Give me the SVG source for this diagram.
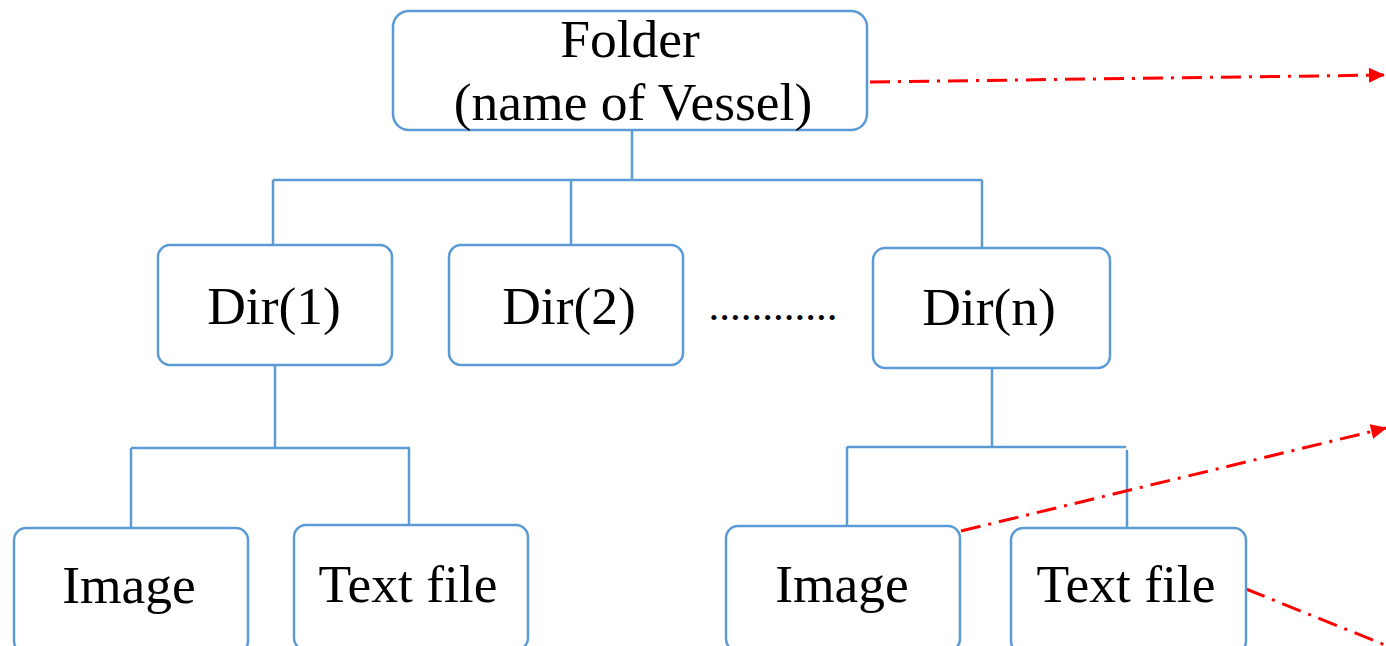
<svg xmlns="http://www.w3.org/2000/svg" width="1386" height="646" viewBox="0 0 1386 646">
<style>
.box{fill:#fff;stroke:#5B9BD5;stroke-width:2.5}
.ln{stroke:#5B9BD5;stroke-width:2.5;fill:none}
.t{font-family:"Liberation Serif","Times New Roman",serif;font-size:53.5px;fill:#000;text-anchor:middle}
.rd{stroke:#FF0000;stroke-width:3;fill:none;stroke-dasharray:20 8 3 8}
</style>
<defs>
<marker id="ah" markerWidth="16" markerHeight="15" refX="15" refY="7.5" orient="auto" markerUnits="userSpaceOnUse" overflow="visible">
<path d="M0,0 L16,7.5 L0,15 Z" fill="#FF0000"/>
</marker>
</defs>
<rect width="1386" height="646" fill="#fff"/>
<g id="connectors">
<path class="ln" d="M632,130 V180 M273,180 H982 M273,180 V245 M571,180 V245 M982,180 V248"/>
<path class="ln" d="M275,365 V448 M131,448 H410 M131,448 V528 M409,448 V525"/>
<path class="ln" d="M992,368 V447 M847,447 H1126 M847,447 V530 M1127,450 V530"/>
<path class="rd" d="M870,82 L1384,75" marker-end="url(#ah)"/>
<path class="rd" d="M961,531 L1386,428" marker-end="url(#ah)"/>
<path class="rd" d="M1246,589 L1390,647"/>
</g>
<g id="folder">
<rect class="box" x="393" y="11" width="474" height="119" rx="16"/>
<text class="t" x="630" y="57">Folder</text>
<text class="t" x="633" y="120">(name of Vessel)</text>
</g>
<g id="dir1">
<rect class="box" x="158" y="245" width="234" height="120" rx="12"/>
<text class="t" x="274" y="324">Dir(1)</text>
</g>
<g id="dir2">
<rect class="box" x="449" y="245" width="234" height="120" rx="12"/>
<text class="t" x="569" y="324">Dir(2)</text>
</g>
<g id="dots">
<text x="773" y="320" style="font-family:'Liberation Serif','Times New Roman',serif;font-size:43px;fill:#000;text-anchor:middle">............</text>
</g>
<g id="dirn">
<rect class="box" x="873" y="248" width="237" height="120" rx="12"/>
<text class="t" x="989" y="325">Dir(n)</text>
</g>
<g id="image1">
<rect class="box" x="14" y="528" width="234" height="125" rx="12"/>
<text class="t" x="129" y="603">Image</text>
</g>
<g id="textfile1">
<rect class="box" x="294" y="525" width="234" height="125" rx="12"/>
<text class="t" x="408" y="602">Text file</text>
</g>
<g id="image2">
<rect class="box" x="726" y="526" width="234" height="125" rx="12"/>
<text class="t" x="842" y="602">Image</text>
</g>
<g id="textfile2">
<rect class="box" x="1011" y="528" width="235" height="125" rx="12"/>
<text class="t" x="1126" y="602">Text file</text>
</g>
</svg>
